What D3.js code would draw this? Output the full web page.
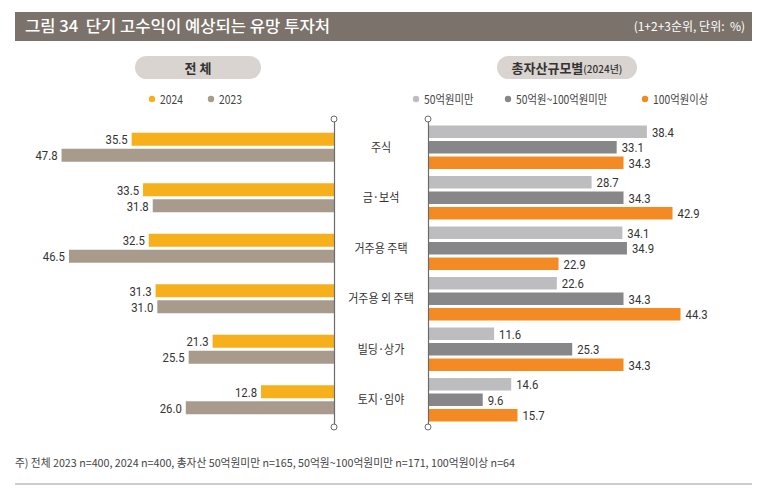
<!DOCTYPE html>
<html><head><meta charset="utf-8">
<script src="https://cdn.jsdelivr.net/npm/d3@7"></script>
<style>
html,body{margin:0;padding:0;background:#fff;}
svg{display:block;}
text{font-family:"Noto Sans CJK KR","Noto Sans",sans-serif;white-space:pre;}
.num{font-family:Roboto,"Noto Sans",sans-serif;}
</style></head>
<body>
<svg id="chart" width="762" height="495"></svg>
<script>
const categories = ["주식", "금·보석", "거주용 주택", "거주용 외 주택", "빌딩·상가", "토지·임야"];
const leftSeries = ["2024", "2023"];
const values2024 = [35.5, 33.5, 32.5, 31.3, 21.3, 12.8];
const values2023 = [47.8, 31.8, 46.5, 31.0, 25.5, 26.0];
const rightSeries = ["50억원미만", "50억원~100억원미만", "100억원이상"];
const valuesUnder50 = [38.4, 28.7, 34.1, 22.6, 11.6, 14.6];
const values50to100 = [33.1, 34.3, 34.9, 34.3, 25.3, 9.6];
const valuesOver100 = [34.3, 42.9, 22.9, 44.3, 34.3, 15.7];

const titleText = "그림 34  단기 고수익이 예상되는 유망 투자처";
const unitText = "(1+2+3순위, 단위:  %)";
const leftPanelTitle = "전 체";
const rightPanelTitle = "총자산규모별";
const rightPanelSub = "(2024년)";
const noteText = "주) 전체 2023 n=400, 2024 n=400, 총자산 50억원미만 n=165, 50억원~100억원미만 n=171, 100억원이상 n=64";

const leftColors = ["#f6b01c", "#a99b8c"];
const rightColors = ["#bdbdc0", "#87878a", "#f38a23"];

const svg = d3.select("#chart");

// header bar
svg.append("rect").attr("x", 15).attr("y", 12).attr("width", 737).attr("height", 29).attr("fill", "#7b736b");
svg.append("text").attr("x", 25).attr("y", 32).attr("fill", "#fff").attr("font-size", 16).attr("font-weight", 500)
  .attr("textLength", 305).attr("lengthAdjust", "spacingAndGlyphs").text(titleText);
svg.append("text").attr("x", 745).attr("y", 31).attr("fill", "#fff").attr("font-size", 12)
  .attr("text-anchor", "end").text(unitText);

// panel pills
function pill(cx, w, build) {
  svg.append("rect").attr("x", cx - w / 2).attr("y", 56).attr("width", w).attr("height", 23).attr("rx", 11.5)
    .attr("fill", "#d9d4cf");
  build(svg.append("text").attr("x", cx).attr("y", 72.5).attr("text-anchor", "middle").attr("fill", "#333")
    .attr("font-size", 13).attr("font-weight", 700));
}
pill(198, 126, t => t.text(leftPanelTitle));
pill(567, 140, t => { t.append("tspan").text(rightPanelTitle); t.append("tspan").attr("font-size", 10).attr("font-weight", 500).text(rightPanelSub); });

// legends
function legend(items, colors, xs) {
  items.forEach((d, i) => {
    svg.append("circle").attr("cx", xs[i]).attr("cy", 99).attr("r", 3.2).attr("fill", colors[i]);
    svg.append("text").attr("font-size", 12).attr("fill", "#444")
      .attr("transform", `translate(${xs[i] + 8},103.5) scale(0.86,1)`).text(d);
  });
}
legend(leftSeries, leftColors, [152, 211]);
legend(rightSeries, rightColors, [416, 508, 645]);

// scales
const y = d3.scaleBand().domain(categories).range([122, 425]).padding(0);
const xLen = d3.scaleLinear().domain([0, 50]).range([0, 285]);
const leftAxisX = 334, rightAxisX = 428;
const xLeft = d3.scaleLinear().domain([0, 50]).range([leftAxisX, leftAxisX - xLen(50)]);
const xRight = d3.scaleLinear().domain([0, 50]).range([rightAxisX, rightAxisX + xLen(50)]);
const yLeftSub = d3.scaleBand().domain(leftSeries).range([-14.5, 14.5]).paddingInner(0.1875);
const yRightSub = d3.scaleBand().domain(rightSeries).range([-21.75, 21.75]).paddingInner(0.194);

const leftData = [values2024, values2023];
const rightData = [valuesUnder50, values50to100, valuesOver100];

// left bars
leftSeries.forEach((s, si) => {
  const g = svg.append("g");
  g.selectAll("rect").data(categories).join("rect")
    .attr("x", (c, i) => xLeft(leftData[si][i]))
    .attr("y", c => y(c) + y.bandwidth() / 2 + yLeftSub(s))
    .attr("width", (c, i) => xLeft(0) - xLeft(leftData[si][i]))
    .attr("height", yLeftSub.bandwidth())
    .attr("fill", leftColors[si]);
  g.selectAll("text").data(categories).join("text").attr("class", "num")
    .attr("transform", (c, i) => `translate(${xLeft(leftData[si][i]) - 4},${y(c) + y.bandwidth() / 2 + yLeftSub(s) + yLeftSub.bandwidth() / 2 + 4.8}) scale(0.84,1)`)
    .attr("text-anchor", "end").attr("font-size", 13.5).attr("fill", "#333")
    .text((c, i) => leftData[si][i].toFixed(1));
});

// right bars
rightSeries.forEach((s, si) => {
  const g = svg.append("g");
  g.selectAll("rect").data(categories).join("rect")
    .attr("x", xRight(0))
    .attr("y", c => y(c) + y.bandwidth() / 2 + yRightSub(s))
    .attr("width", (c, i) => xRight(rightData[si][i]) - xRight(0))
    .attr("height", yRightSub.bandwidth())
    .attr("fill", rightColors[si]);
  g.selectAll("text").data(categories).join("text").attr("class", "num")
    .attr("transform", (c, i) => `translate(${xRight(rightData[si][i]) + 5},${y(c) + y.bandwidth() / 2 + yRightSub(s) + yRightSub.bandwidth() / 2 + 4.8}) scale(0.84,1)`)
    .attr("font-size", 13.5).attr("fill", "#333")
    .text((c, i) => rightData[si][i].toFixed(1));
});

// axis lines
const yAxisScale = d3.scaleLinear().domain([0, 1]).range([119, 427]);
[leftAxisX, rightAxisX].forEach(ax => {
  const a = svg.append("g").attr("transform", `translate(${ax},0)`)
    .call(d3.axisLeft(yAxisScale).ticks(0).tickSizeOuter(0));
  a.select(".domain").attr("stroke", "#6b6b6b").attr("stroke-width", 1.2);
  [119, 427].forEach(cy => svg.append("circle").attr("cx", ax).attr("cy", cy).attr("r", 3)
    .attr("fill", "#fff").attr("stroke", "#6b6b6b").attr("stroke-width", 1));
});

// category labels
svg.append("g").selectAll("text").data(categories).join("text")
  .attr("transform", c => `translate(381,${y(c) + y.bandwidth() / 2 + 4.5}) scale(0.88,1)`)
  .attr("text-anchor", "middle").attr("font-size", 12.5).attr("fill", "#333")
  .text(c => c);

// footnote
svg.append("text").attr("x", 15).attr("y", 467).attr("font-size", 11).attr("fill", "#444")
  .attr("textLength", 500).attr("lengthAdjust", "spacingAndGlyphs").text(noteText);
svg.append("line").attr("x1", 15).attr("x2", 752).attr("y1", 484).attr("y2", 484)
  .attr("stroke", "#bdbdbd").attr("stroke-width", 1.5);
</script>
</body></html>
